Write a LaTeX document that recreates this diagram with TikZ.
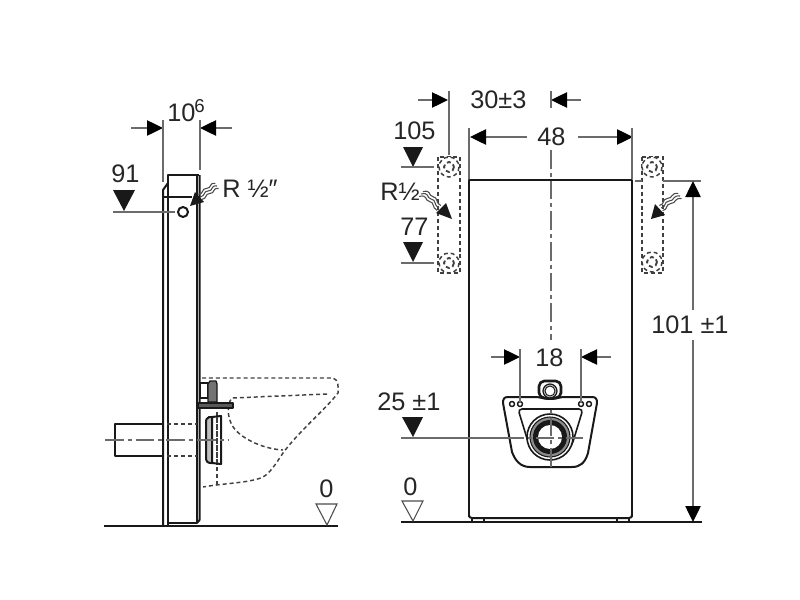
\documentclass[tikz,border=0pt]{standalone}
\usepackage{fontspec}
\setmainfont{Liberation Sans}
\usetikzlibrary{arrows.meta}
\definecolor{dimgray}{gray}{0.42}
\tikzset{
   label/.style={anchor=base west, inner sep=0pt, font=\fontsize{19}{21}\selectfont, text=black!85},
   small/.style={anchor=base west, inner sep=0pt, font=\fontsize{14}{15}\selectfont, text=black!85},
   dimension/.style={draw=dimgray, line width=1pt, arrows={-{Triangle[length=12pt,width=11.5pt,color=black]}}},
   extension/.style={draw=dimgray, line width=1pt},
   centre/.style={draw=dimgray, line width=1.1pt, dash pattern=on 14pt off 3pt on 3pt off 3pt},
   outline/.style={draw=black!90, line width=1.5pt, line join=round},
   hidden/.style={draw=black!75, line width=1.1pt, dash pattern=on 3pt off 2.2pt},
   levelfull/.style={fill=black!90, draw=none},
   levelopen/.style={fill=white, draw=black!70, line width=0.8pt},
   wave/.style={draw=black!70, line width=0.8pt},
}
\begin{document}
\begin{tikzpicture}[x=0.75pt,y=-0.75pt]
   \useasboundingbox (0,0) rectangle (800,600);
   % side view: ground and frame
   \draw[outline](104,526)--(338,526);
   \draw[outline](168,183)--(163,190)--(163,526);
   \draw[outline](168,526)--(168,175)--(199,175);
   \draw[outline](197,175)--(197,523)--(168,523);
   \draw[outline](199.5,175)--(199.5,520)--(197,523);
   \draw[outline](163,197)--(192,197);
   \draw[outline, fill=white](183,212) circle (5);
   % side view: pipe
   \draw[outline](163,424)--(115,424)--(115,456)--(163,456);
   \draw[hidden](167,424)--(197,424);
   \draw[hidden](167,456)--(197,456);
   % side view: bowl
   \draw[hidden](202,378)--(333,378)..controls (338,379) and (339,388) .. (338,393)
      ..controls (325,410) and (300,430) .. (283,453)
      ..controls (275,465) and (270,473) .. (263,477)
      ..controls (250,483) and (225,483) .. (203,487);
   \draw[hidden](327,394)--(232,398)..controls (226,405) and (228,418) .. (232,425)
      ..controls (238,437) and (262,449) .. (283,450);
   \draw[hidden](217,412)--(217,486);
   % side view: bracket and flange
   \draw[outline, fill=black!65, line width=0.9pt](198,403) rectangle (233,408);
   \draw[outline, line width=1pt](200,383) rectangle (208,398);
   \draw[outline, fill=black!55, line width=1pt](208,384)--(210,381)--(216,381)--(217,384)--(217,402)--(208,402)--cycle;
   \draw[outline, fill=black!25](212,417)--(209,417)..controls (206,418) and (206,420) .. (206,424)
      --(206,457)..controls (206,461) and (207,463) .. (211,463)--(212,463)--cycle;
   \draw[outline](212,417)--(221,416)--(221,464)--(212,463);
   \draw[hidden](217,417)--(217,463);
   \draw[centre](105,440)--(229,440);
   % side view: dimensions
   \draw[dimension](131,128)--(163,128);
   \draw[dimension](232,128)--(200,128);
   \draw[extension](163,120)--(163,182);
   \draw[extension](200,120)--(200,170);
   \node[label] (sidewidth) at (167,121) {10};
   \node[small] (sidewidthexp) at (194,112) {6};
   \node[label] (sidelevel) at (111,182) {91};
   \fill[levelfull](113,190)--(135,190)--(124,211)--cycle;
   \draw[extension](113,212)--(175,212);
   \foreach \d in {-3,0,3}
      \draw[wave, shift={(\d*0.55,\d*0.85)}](217,186)..controls (210,185) and (214,191) .. (208,191)
         ..controls (203,191) and (206,196) .. (200,197);
   \fill[levelfull](190,206)--(195,192)--(204,202)--cycle;
   \node[label] (sidepipe) at (222,197) {R ½″};
   \node[label] (sidezero) at (319,497) {0};
   \draw[levelopen](316,504)--(337,504)--(327,525)--cycle;
   % front view: panel
   \draw[outline](401,522)--(702,522);
   \draw[outline](469,517)--(469,180)--(632,180)--(632,517);
   \draw[outline](469,515)..controls (469,517) and (470,518) .. (472,518)--(629,518)..controls (631,518) and (632,517) .. (632,515);
   \draw[outline, line width=0.9pt](472,518) rectangle (484,522);
   \draw[outline, line width=0.9pt](617,518) rectangle (629,522);
   % front view: brackets
   \draw[hidden](438,157) rectangle (460,273);
   \draw[hidden](642,157) rectangle (663,273);
   \foreach \x/\y in {449/167,449/263,652/167,652/262}{
      \draw[hidden, fill=white](\x,\y) circle (10);
      \draw[hidden, line width=1.4pt](\x,\y) circle (5);
   }
   % front view: mounting plate
   \draw[outline](508,397)--(537,397)..controls (541,397) and (543,399) .. (550,399)
      ..controls (557,399) and (559,397) .. (563,397)--(592,397)
      ..controls (596,397) and (597,399) .. (597,403)--(588,453)..controls (585,463) and (580,467) .. (572,467)
      --(530,467)..controls (520,467) and (515,460) .. (512,452)--(503,403)
      ..controls (503,399) and (504,397) .. (508,397)--cycle;
   \draw[outline, line width=2pt, fill=white, rounded corners=4pt](539,398) rectangle (561,381);
   \draw[outline, line width=0.9pt, fill=black!25](550,391) circle (7);
   \draw[outline, line width=0.7pt, fill=white](550,391) circle (5);
   \draw[outline, rounded corners=3pt, line width=1.2pt](518,409)--(583,409)--(572,445)--(560,458)--(540,458)--(529,445)--cycle;
   \draw[outline, fill=white, line width=1.2pt](550,437) circle (23);
   \draw[outline, fill=black!45, line width=0.8pt](550,437) circle (20);
   \draw[fill=black!90, draw=none](550,437) circle (17);
   \draw[fill=white, draw=none](550,437) circle (12);
   \foreach \x in {512,520,581,589}
      \draw[outline, line width=1.1pt, fill=white](\x,404) circle (2.5);
   % front view: centre lines
   \draw[centre](551,150)--(551,340);
   \draw[centre](551,467)--(551,408);
   \draw[extension](401,438)--(505,438);
   \draw[centre](505,438)--(583,438);
   % front view: dimensions
   \draw[dimension](418,100)--(448,100);
   \draw[dimension](581,100)--(551,100);
   \draw[extension](449,91)--(449,155);
   \draw[extension](551,91)--(551,108);
   \node[label] (gapwidth) at (470,108) {30±3};
   \draw[dimension](527,137)--(470,137);
   \draw[dimension](578,137)--(633,137);
   \draw[extension](469,128)--(469,179);
   \draw[extension](632,128)--(632,179);
   \node[label] (panelwidth) at (537,145) {48};
   \draw[extension](635,181)--(642,181);
   \draw[extension](663,181)--(701,181);
   \draw[dimension](693,310)--(693,181);
   \draw[dimension](693,340)--(693,522);
   \node[label] (panelheight) at (651,333) {101 ±1};
   \draw[dimension](491,357)--(520,357);
   \draw[dimension](611,357)--(581,357);
   \draw[extension](520,349)--(520,403);
   \draw[extension](581,349)--(581,403);
   \node[label] (holewidth) at (535,366) {18};
   % front view: levels
   \node[label] (levelupper) at (393,139) {105};
   \fill[levelfull](403,147)--(423,147)--(413,167)--cycle;
   \draw[extension](401,167)--(434,167);
   \node[label] (frontpipe) at (380,200) {R½};
   \foreach \d in {-3,0,3}
      \draw[wave, shift={(\d*0.6,-\d*0.8)}](421,194)..controls (430,192) and (426,198) .. (431,199)
         ..controls (437,200) and (433,205) .. (439,208);
   \fill[levelfull](452,219)--(436,213)--(446,203)--cycle;
   \node[label] (levellower) at (400,235) {77};
   \fill[levelfull](403,242)--(423,242)--(413,262)--cycle;
   \draw[extension](401,263)--(434,263);
   \foreach \d in {-3,0,3}
      \draw[wave, shift={(\d*0.55,\d*0.85)}](680,196)..controls (672,195) and (675,201) .. (669,201)
         ..controls (663,202) and (667,207) .. (661,208);
   \fill[levelfull](651,219)--(655,204)--(665,215)--cycle;
   \node[label] (levelflush) at (377,410) {25 ±1};
   \fill[levelfull](402,417)--(423,417)--(413,437)--cycle;
   \node[label] (frontzero) at (403,495) {0};
   \draw[levelopen](402,501)--(423,501)--(413,521)--cycle;
\end{tikzpicture}
\end{document}
